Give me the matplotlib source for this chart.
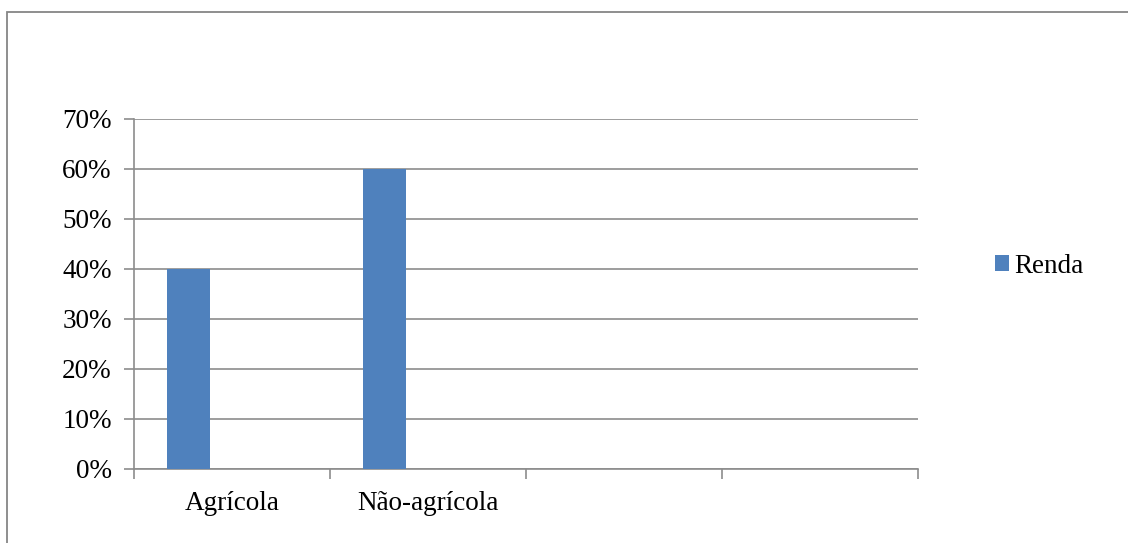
import matplotlib.pyplot as plt
from matplotlib.patches import Rectangle
from matplotlib.ticker import PercentFormatter

categories = ['Agrícola', 'Não-agrícola', '', '']
renda = [0.40, 0.60, None, None]
series_name = 'Renda'
yticks = [0, 0.1, 0.2, 0.3, 0.4, 0.5, 0.6, 0.7]

plt.rcParams['font.family'] = ['Liberation Serif', 'DejaVu Serif']

W, H = 1128, 543
fig = plt.figure(figsize=(W / 100, H / 100), dpi=100)
ax = fig.add_axes([134 / W, 1 - 469 / H, (918 - 134) / W, (469 - 119) / H])

# outer chart frame (right/bottom edges run off the picture)
fig.patches.append(Rectangle((6.5 / W, -0.1), 1.2, 1 - 12.5 / H + 0.1,
                             transform=fig.transFigure, fill=False,
                             edgecolor='#868686', linewidth=1.3))

grid_col = '#8c8c8c'
bar_col = '#4F81BD'
fs = 19.5

x = list(range(len(categories)))
bar_w = 0.222
offset = -0.222
xs = [i + offset for i, v in zip(x, renda) if v is not None]
vals = [v for v in renda if v is not None]
ax.bar(xs, vals, width=bar_w, color=bar_col, label=series_name, zorder=3)

ax.set_xlim(-0.5, len(categories) - 0.5)
ax.set_ylim(0, 0.7)
ax.set_yticks(yticks)
ax.yaxis.set_major_formatter(PercentFormatter(1.0, decimals=0))
ax.yaxis.grid(True, color=grid_col, linewidth=1.2, zorder=0)

# category boundaries carry the tick marks, labels sit at the centres
ax.set_xticks([i - 0.5 for i in range(len(categories) + 1)])
ax.set_xticklabels([])
ax.set_xticks(x, minor=True)
ax.set_xticklabels(categories, minor=True)
ax.tick_params(axis='x', which='minor', length=0, pad=16, labelsize=fs)
ax.tick_params(axis='x', which='major', length=7, width=1.2, color=grid_col)
ax.tick_params(axis='y', length=7, width=1.2, color=grid_col, labelsize=fs, pad=9)

for s in ['top', 'right']:
    ax.spines[s].set_visible(False)
for s in ['left', 'bottom']:
    ax.spines[s].set_color(grid_col)
    ax.spines[s].set_linewidth(1.2)

ax.legend(loc='center left', bbox_to_anchor=(995 / W, 1 - 266 / H),
          bbox_transform=fig.transFigure, frameon=False, fontsize=fs,
          handlelength=0.5, handleheight=0.5, handletextpad=0.2,
          borderpad=0, borderaxespad=0)

fig.savefig('out.png', dpi=100)
